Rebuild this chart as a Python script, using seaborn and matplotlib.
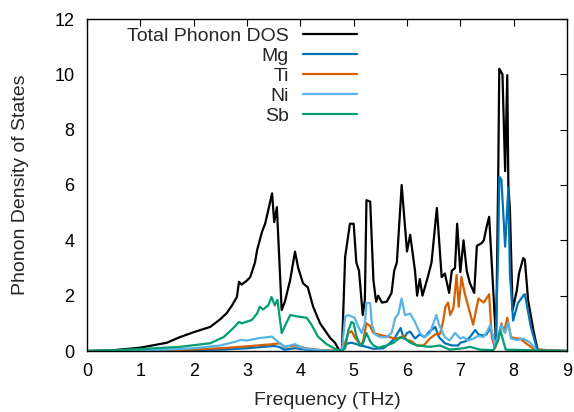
import matplotlib
matplotlib.use("Agg")
import matplotlib.pyplot as plt
import seaborn as sns
import pandas as pd

sns.set_style("white")
plt.rcParams['font.family'] = ['Liberation Sans', 'DejaVu Sans']

# ---- data ----
total_f = [0.0, 0.5, 1.0, 1.5, 1.74, 2.0, 2.31, 2.5, 2.62, 2.72, 2.81, 2.85, 2.9, 3.0, 3.06, 3.15, 3.19, 3.28, 3.34, 3.4,
           3.47, 3.51, 3.56, 3.65, 3.71, 3.81, 3.9, 3.96, 4.05, 4.14, 4.24, 4.37, 4.56, 4.65, 4.72, 4.78, 4.84, 4.93, 5.0,
           5.05, 5.1, 5.17, 5.21, 5.24, 5.31, 5.37, 5.42, 5.46, 5.53, 5.62, 5.71, 5.76, 5.81, 5.9, 6.0, 6.06, 6.15, 6.19,
           6.24, 6.29, 6.39, 6.46, 6.56, 6.65, 6.71, 6.79, 6.84, 6.9, 6.94, 7.0, 7.06, 7.12, 7.18, 7.26, 7.31, 7.4, 7.44,
           7.5, 7.54, 7.62, 7.67, 7.71, 7.73, 7.79, 7.84, 7.88, 7.9, 7.93, 7.98, 8.06, 8.1, 8.18, 8.21, 8.27, 8.37, 8.43,
           8.46, 9.0]
total_dos = [0.0, 0.03, 0.12, 0.3, 0.5, 0.68, 0.87, 1.15, 1.37, 1.65, 1.95, 2.5, 2.4, 2.55, 2.67, 3.2, 3.65, 4.3, 4.6, 5.1,
             5.7, 4.66, 5.2, 1.48, 1.78, 2.57, 3.59, 3.0, 2.45, 2.3, 1.6, 1.0, 0.47, 0.3, 0.05, 0.02, 3.4, 4.6, 4.6,
             3.2, 2.9, 1.3, 1.85, 5.45, 5.4, 2.57, 1.78, 2.0, 1.75, 1.78, 2.1, 2.9, 3.2, 6.0, 3.6, 4.2, 2.9, 2.0,
             2.6, 2.0, 2.67, 3.2, 5.17, 2.67, 2.8, 2.1, 2.9, 3.0, 4.6, 2.85, 4.0, 2.9, 2.45, 2.1, 3.8, 3.9, 4.0,
             4.55, 4.85, 2.1, 0.3, 6.3, 10.2, 10.0, 6.5, 9.97, 6.0, 5.1, 1.48, 2.2, 2.8, 3.36, 3.3, 1.85, 0.75, 0.2,
             0.0, 0.0]

mg_f = [0.0, 1.5, 2.5, 3.0, 3.3, 3.5, 3.6, 3.7, 3.9, 4.1, 4.5, 4.78, 4.84, 4.9, 4.96, 5.05, 5.12, 5.24, 5.37, 5.56, 5.69,
        5.77, 5.88, 5.94, 6.0, 6.06, 6.15, 6.24, 6.33, 6.43, 6.53, 6.6, 6.71, 6.84, 6.96, 7.0, 7.1, 7.18, 7.28, 7.34,
        7.43, 7.49, 7.56, 7.62, 7.66, 7.71, 7.73, 7.77, 7.84, 7.9, 7.93, 7.99, 8.08, 8.18, 8.21, 8.32, 8.44, 9.0]
mg_dos = [0.0, 0.01, 0.05, 0.1, 0.15, 0.18, 0.15, 0.05, 0.1, 0.05, 0.01, 0.0, 0.22, 0.28, 0.3, 0.25, 0.2, 0.15, 0.08, 0.1, 0.3,
          0.47, 0.83, 0.45, 0.65, 0.7, 0.45, 0.6, 0.5, 0.72, 0.87, 0.5, 0.28, 0.2, 0.2, 0.3, 0.35, 0.5, 0.76, 0.6,
          0.56, 0.6, 0.82, 0.5, 0.2, 3.65, 6.3, 6.2, 3.77, 5.9, 2.8, 1.1, 1.73, 2.0, 2.05, 0.9, 0.05, 0.0]

ti_f = [0.0, 1.5, 2.5, 2.87, 3.2, 3.5, 3.62, 3.7, 3.9, 4.1, 4.4, 4.78, 4.84, 4.9, 4.96, 5.02, 5.12, 5.17, 5.24, 5.31, 5.37,
        5.46, 5.56, 5.68, 5.77, 5.87, 5.93, 6.0, 6.09, 6.18, 6.31, 6.43, 6.53, 6.62, 6.68, 6.72, 6.77, 6.81, 6.87, 6.93,
        6.97, 7.02, 7.08, 7.15, 7.24, 7.34, 7.44, 7.54, 7.59, 7.65, 7.71, 7.77, 7.82, 7.88, 7.95, 8.05, 8.12, 8.25, 8.4, 9.0]
ti_dos = [0.0, 0.02, 0.1, 0.15, 0.2, 0.25, 0.28, 0.15, 0.2, 0.1, 0.03, 0.0, 0.3, 0.65, 0.72, 0.5, 0.25, 0.3, 1.0, 0.9, 0.65,
          0.6, 0.55, 0.5, 0.45, 0.47, 0.55, 0.4, 0.35, 0.2, 0.2, 0.45, 0.6, 0.62, 1.1, 1.6, 1.75, 1.3, 1.55, 2.75,
          1.6, 2.68, 2.1, 1.6, 0.95, 1.9, 1.75, 2.05, 0.5, 0.1, 0.4, 1.0, 0.7, 1.2, 0.5, 0.45, 0.45, 0.25, 0.05, 0.0]

ni_f = [0.0, 1.0, 1.5, 2.0, 2.5, 2.81, 2.87, 3.0, 3.24, 3.47, 3.6, 3.71, 3.9, 4.05, 4.24, 4.6, 4.78, 4.84, 4.9, 5.02, 5.08,
        5.15, 5.21, 5.24, 5.31, 5.34, 5.4, 5.5, 5.62, 5.71, 5.78, 5.84, 5.9, 5.96, 6.06, 6.15, 6.24, 6.33, 6.43, 6.55,
        6.6, 6.71, 6.8, 6.9, 7.0, 7.06, 7.15, 7.25, 7.34, 7.43, 7.5, 7.56, 7.65, 7.77, 7.84, 7.9, 7.95, 8.06, 8.18,
        8.31, 8.44, 9.0]
ni_dos = [0.0, 0.02, 0.05, 0.1, 0.2, 0.35, 0.4, 0.38, 0.47, 0.52, 0.3, 0.15, 0.25, 0.1, 0.05, 0.0, 0.0, 1.24, 1.3, 1.2, 0.9,
          0.65, 1.0, 1.73, 1.73, 1.0, 0.6, 0.5, 0.5, 0.65, 1.2, 1.35, 1.9, 1.3, 1.35, 1.05, 0.65, 0.5, 0.65, 1.3,
          0.95, 0.5, 0.38, 0.65, 0.45, 0.5, 0.38, 0.45, 0.55, 0.5, 0.7, 0.95, 0.2, 0.95, 0.65, 1.05, 0.45, 0.4, 0.45,
          0.3, 0.0, 0.0]

sb_f = [0.0, 0.5, 1.0, 1.74, 2.31, 2.56, 2.74, 2.85, 2.9, 3.09, 3.19, 3.24, 3.3, 3.4, 3.46, 3.52, 3.57, 3.65, 3.71, 3.81,
        3.94, 4.12, 4.21, 4.33, 4.49, 4.65, 4.78, 4.84, 4.9, 4.96, 5.0, 5.05, 5.12, 5.17, 5.24, 5.31, 5.37, 5.46, 5.62,
        5.75, 5.87, 5.96, 6.06, 6.19, 6.43, 6.62, 6.8, 7.06, 7.18, 7.37, 7.62, 7.71, 7.75, 7.8, 7.85, 9.0]
sb_dos = [0.0, 0.03, 0.07, 0.15, 0.28, 0.5, 0.82, 1.05, 1.0, 1.12, 1.36, 1.6, 1.5, 1.65, 1.95, 1.65, 1.85, 0.65, 0.9, 1.3,
          1.25, 1.2, 0.95, 0.52, 0.25, 0.08, 0.0, 0.1, 0.75, 1.05, 1.0, 0.55, 0.2, 0.25, 0.65, 0.35, 0.2, 0.12, 0.2,
          0.3, 0.5, 0.45, 0.3, 0.2, 0.15, 0.2, 0.05, 0.1, 0.15, 0.05, 0.03, 0.4, 0.75, 0.4, 0.05, 0.0]

labels = ["Total Phonon DOS", "Mg", "Ti", "Ni", "Sb"]
colors = ["#000000", "#0072B2", "#D55E00", "#56B4E9", "#009E73"]
x_ticks = [0, 1, 2, 3, 4, 5, 6, 7, 8, 9]
y_ticks = [0, 2, 4, 6, 8, 10, 12]

series = [(total_f, total_dos), (mg_f, mg_dos), (ti_f, ti_dos), (ni_f, ni_dos), (sb_f, sb_dos)]

fig = plt.figure(figsize=(5.74, 4.12), dpi=100)
ax = fig.add_axes([87 / 574, 1 - 351 / 412, 480 / 574, 332 / 412])

for (f, d), lab, col in zip(series, labels, colors):
    df = pd.DataFrame({"Frequency": f, "DOS": d})
    sns.lineplot(data=df, x="Frequency", y="DOS", ax=ax, color=col, linewidth=1.6,
                 label=lab, sort=False, estimator=None)

ax.set_xlim(0, 9)
ax.set_ylim(0, 12)
ax.set_xticks(x_ticks)
ax.set_yticks(y_ticks)
ax.tick_params(direction="in", length=5, width=0.8, top=True, right=True,
               labelsize=13, colors="black")
ax.tick_params(axis='x', pad=8.5)
ax.tick_params(axis='y', pad=9)
for sp in ax.spines.values():
    sp.set_color("black")
    sp.set_linewidth(1.0)
ax.set_xlabel("Frequency (THz)", fontsize=14, labelpad=9)
ax.set_ylabel("Phonon Density of States", fontsize=14, labelpad=18)

leg = ax.legend(loc="upper right", bbox_to_anchor=(0.5625, 0.976), frameon=False,
                markerfirst=False, fontsize=14, handlelength=2.8, handletextpad=0.7,
                labelspacing=0.13, borderpad=0, borderaxespad=0)

fig.savefig("out.png", dpi=100)
